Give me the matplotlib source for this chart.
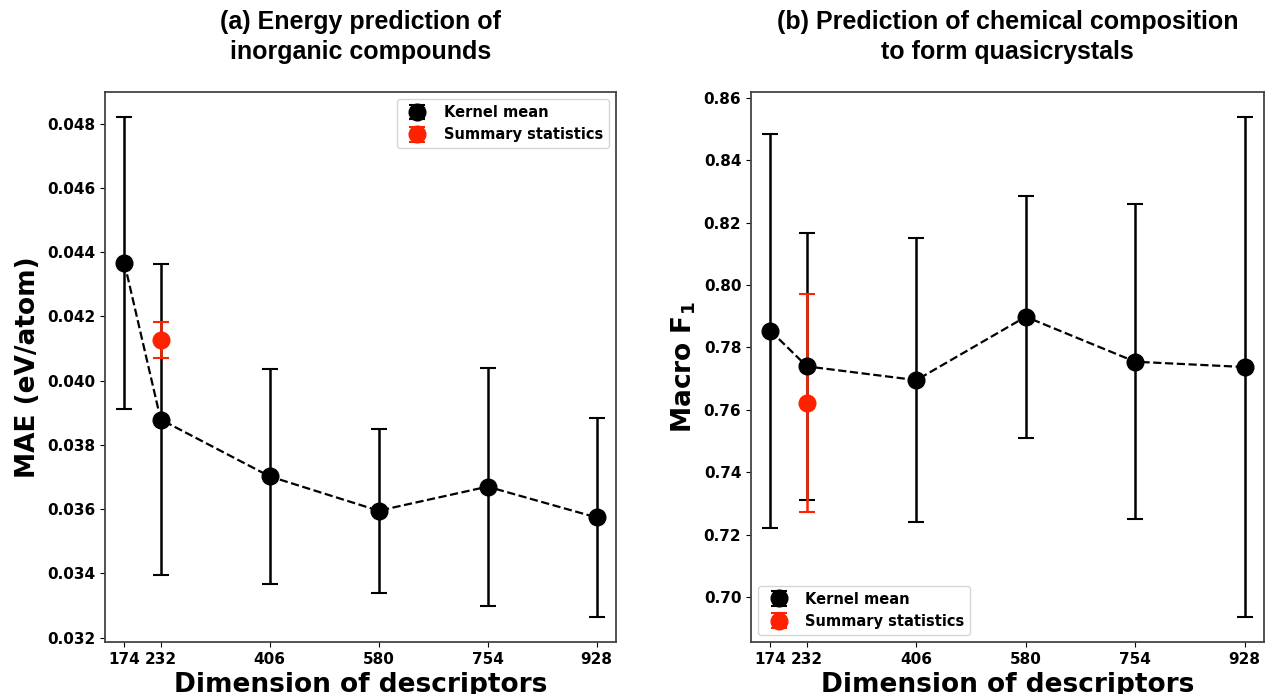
import numpy as np
import matplotlib
matplotlib.use("Agg")
import matplotlib.pyplot as plt

# descriptor dimensions
dims = [174, 232, 406, 580, 754, 928]

# (a) energy prediction, MAE (eV/atom)
mae_kernel = [0.04367, 0.03879, 0.03702, 0.03595, 0.03670, 0.03574]
mae_kernel_err = [0.00454, 0.00483, 0.00335, 0.00255, 0.00371, 0.00310]
mae_summary = [0.04127]
mae_summary_err = [0.00057]

# (b) quasicrystal composition, macro F1
f1_kernel = [0.7853, 0.7739, 0.7695, 0.7898, 0.7754, 0.7737]
f1_kernel_err = [0.0632, 0.0429, 0.0454, 0.0388, 0.0504, 0.0801]
f1_summary = [0.7623]
f1_summary_err = [0.0349]

summary_dim = [232]

plt.rcParams['font.family'] = 'DejaVu Sans'
plt.rcParams['font.weight'] = 'bold'
plt.rcParams['mathtext.default'] = 'bf'

RED = '#ff2200'

fig = plt.figure(figsize=(12.69, 6.94), dpi=100)
ax1 = fig.add_axes([0.0827, 0.0749, 0.4027, 0.7925])
ax2 = fig.add_axes([0.5918, 0.0749, 0.4043, 0.7925])


def draw(ax, mean, err, smean, serr):
    ax.plot(dims, mean, '--', color='black', lw=1.6, zorder=1.9)
    ax.errorbar(dims, mean, yerr=err, fmt='o', color='black', ecolor='black',
                markersize=12, elinewidth=1.8, capsize=6, capthick=1.5,
                zorder=2, label='Kernel mean')
    ax.errorbar(summary_dim, smean, yerr=serr, fmt='o', color=RED, ecolor=RED,
                markersize=12, elinewidth=1.8, capsize=6, capthick=1.5,
                zorder=2.05, label='Summary statistics')
    ax.set_xticks(dims)
    ax.set_xlim(143, 959)
    ax.tick_params(labelsize=11)
    for lab in ax.get_xticklabels() + ax.get_yticklabels():
        lab.set_fontweight('bold')
    ax.set_xlabel('Dimension of descriptors', fontsize=19, fontweight='bold')
    for s in ax.spines.values():
        s.set_color('#444444')
        s.set_linewidth(1.3)


draw(ax1, mae_kernel, mae_kernel_err, mae_summary, mae_summary_err)
draw(ax2, f1_kernel, f1_kernel_err, f1_summary, f1_summary_err)

ax1.set_yticks(np.arange(0.032, 0.0481, 0.002))
ax1.yaxis.set_major_formatter(matplotlib.ticker.FormatStrFormatter('%.3f'))
ax2.set_yticks(np.arange(0.70, 0.861, 0.02))
ax2.yaxis.set_major_formatter(matplotlib.ticker.FormatStrFormatter('%.2f'))

ax1.set_ylabel('MAE (eV/atom)', fontsize=19, fontweight='bold')
ax2.set_ylabel(r'Macro F$_1$', fontsize=19, fontweight='bold')

ax1.legend(loc='upper right', prop={'weight': 'bold', 'size': 10.5})
ax2.legend(loc='lower left', prop={'weight': 'bold', 'size': 10.5})

ax1.set_title('(a) Energy prediction of\ninorganic compounds', fontsize=18,
              fontweight='bold', family='Liberation Sans', pad=24,
              linespacing=1.3)
ax2.set_title('(b) Prediction of chemical composition\nto form quasicrystals',
              fontsize=18, fontweight='bold', family='Liberation Sans', pad=24,
              linespacing=1.3)

fig.savefig('out.png', dpi=100)
